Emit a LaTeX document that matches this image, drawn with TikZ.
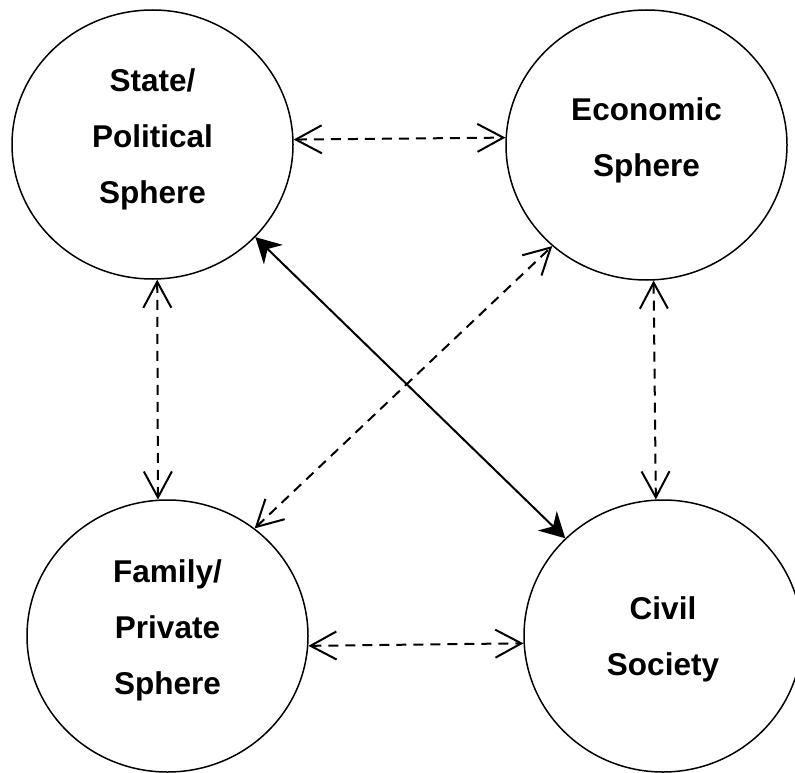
\documentclass[tikz,border=0pt]{standalone}
\usepackage{fontspec}
\setmainfont{Liberation Sans}
\usetikzlibrary{arrows.meta,shapes.geometric}
\newcommand\sphtext[2]{\raisebox{#1}[\height][\depth]{\begin{tabular}{@{}c@{}}#2\end{tabular}}}
\begin{document}
\begin{tikzpicture}[x=1pt,y=-1pt,
  sphere/.style={ellipse, draw, line width=1.5pt, inner sep=0pt,
    font=\fontsize{31.5}{56}\selectfont\bfseries},
  dlink/.style={line width=2pt, dash pattern=on 10pt off 7pt,
    {Straight Barb[length=26pt,width=28pt]}-{Straight Barb[length=26pt,width=28pt]}},
  slink/.style={line width=2pt,
    {Stealth[length=25pt,width=27pt,inset=8pt]}-{Stealth[length=25pt,width=27pt,inset=8pt]}}]
\useasboundingbox (0,0) rectangle (795,773);
\node[sphere, minimum width=281pt, minimum height=269pt] (st) at (152.5,144.5)
  {\sphtext{8pt}{State/\\Political\\Sphere}};
\node[sphere, minimum width=281pt, minimum height=270pt] (ec) at (646.5,145)
  {\sphtext{8pt}{Economic\\Sphere}};
\node[sphere, minimum width=281pt, minimum height=272pt] (fa) at (167.5,636)
  {\sphtext{9pt}{Family/\\Private\\Sphere}};
\node[sphere, minimum width=278pt, minimum height=272pt] (cs) at (663,636)
  {\sphtext{0pt}{Civil\\Society}};
\draw[dlink] (st.2.4) -- (ec.177.3);
\draw[dlink] (st.272.3) -- (fa.94);
\draw[dlink] (ec.273.2) -- (cs.93.8);
\draw[dlink] (fa.356.5) -- (cs.183.5);
\draw[dlink] (fa.51.3) -- (ec.227.4);
\draw[slink] (st.318.1) -- (cs.135.3);
\end{tikzpicture}
\end{document}
